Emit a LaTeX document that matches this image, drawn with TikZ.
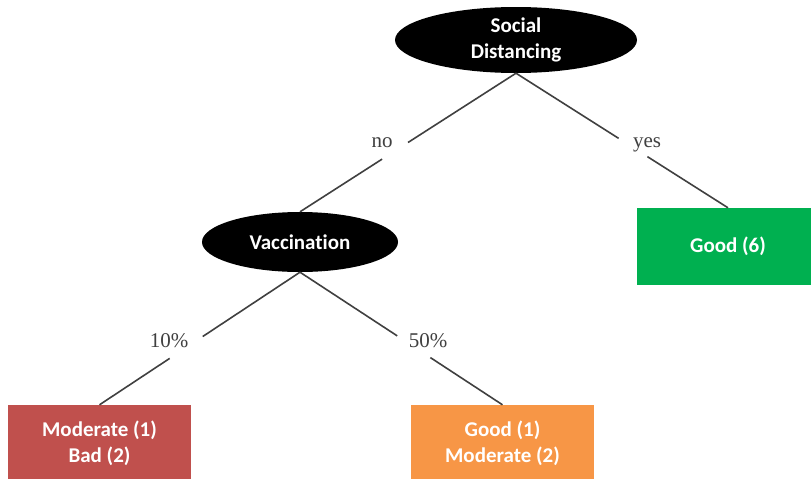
\documentclass[tikz,border=0pt]{standalone}
\usepackage{fontspec}
\setmainfont{Liberation Serif}
\newfontfamily\carl[Ligatures=NoCommon]{Carlito}
\usetikzlibrary{shapes.geometric}
\definecolor{boxred}{HTML}{C0504D}
\definecolor{boxorange}{HTML}{F79646}
\definecolor{boxgreen}{HTML}{00B050}
\definecolor{linegray}{HTML}{404040}
\begin{document}
\begin{tikzpicture}[x=1pt,y=-1pt,
  decision/.style={ellipse, fill=black, text=white, inner sep=0pt,
    font=\carl\bfseries\fontsize{21}{26}\selectfont, align=center},
  leaf/.style={rectangle, inner sep=0pt, minimum width=183pt, minimum height=77pt,
    text=white, font=\carl\bfseries\fontsize{21}{26}\selectfont, align=center},
  edge/.style={draw=linegray, line width=1.6pt},
  lbl/.style={anchor=base, inner sep=0pt, text=linegray, font=\fontsize{21}{26}\selectfont}]
\useasboundingbox (0,0) rectangle (811,479);
\fill[white] (0,0) rectangle (811,479);

\node[decision, minimum width=242pt, minimum height=66pt] (root) at (516,40) {Social\\Distancing};
\node[decision, minimum width=196pt, minimum height=60pt] (vacc) at (300,242) {Vaccination};
\node[leaf, fill=boxgreen] (good6) at (728,246.5) {Good (6)};
\node[leaf, fill=boxred] (redleaf) at (99.5,443.5) {Moderate (1)\\Bad (2)};
\node[leaf, fill=boxorange] (orangeleaf) at (502.5,443.5) {Good (1)\\Moderate (2)};

\path (root.south) -- (vacc.north) coordinate[pos=0.5] (rn1) coordinate[pos=0.62] (rn2);
\draw[edge] (root.south) -- (rn1);
\draw[edge] (rn2) -- (vacc.north);

\path (root.south) -- (good6.north) coordinate[pos=0.484] (ry1) coordinate[pos=0.62] (ry2);
\draw[edge] (root.south) -- (ry1);
\draw[edge] (ry2) -- (good6.north);

\path (vacc.south) -- (redleaf.north) coordinate[pos=0.485] (v11) coordinate[pos=0.65] (v12);
\draw[edge] (vacc.south) -- (v11);
\draw[edge] (v12) -- (redleaf.north);

\path (vacc.south) -- (orangeleaf.north) coordinate[pos=0.48] (v51) coordinate[pos=0.644] (v52);
\draw[edge] (vacc.south) -- (v51);
\draw[edge] (v52) -- (orangeleaf.north);

\node[lbl] (lno) at (382,147) {no};
\node[lbl] (lyes) at (647,147) {yes};
\node[lbl] (l10) at (169,347) {10\%};
\node[lbl] (l50) at (428,347) {50\%};
\end{tikzpicture}
\end{document}
